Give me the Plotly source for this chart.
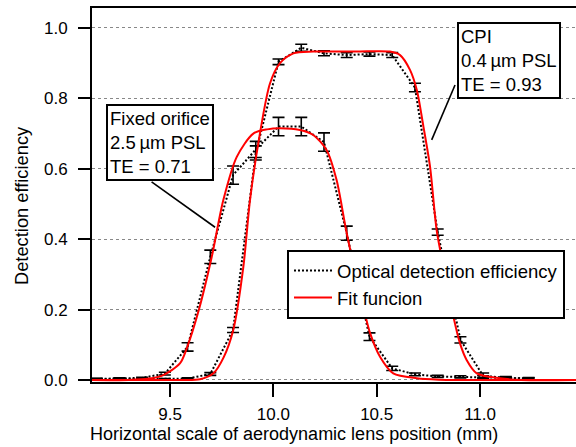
import plotly.graph_objects as go

# ---- measured data ----
x_pos = [9.145, 9.255, 9.365, 9.475, 9.585, 9.695, 9.805, 9.915, 10.025, 10.135,
         10.245, 10.355, 10.465, 10.575, 10.685, 10.795, 10.905, 11.015, 11.125, 11.235]

eff_fixed = [0.003, 0.004, 0.006, 0.018, 0.094, 0.350, 0.582, 0.655, 0.720, 0.720,
             0.676, 0.417, 0.123, 0.033, 0.016, 0.010, 0.009, 0.009, 0.006, 0.004]
err_fixed = [0.002, 0.002, 0.002, 0.004, 0.012, 0.019, 0.026, 0.023, 0.026, 0.026,
             0.026, 0.020, 0.011, 0.006, 0.004, 0.003, 0.003, 0.003, 0.002, 0.002]

eff_cpi = [0.002, 0.002, 0.002, 0.002, 0.004, 0.017, 0.142, 0.645, 0.904, 0.944,
           0.928, 0.923, 0.926, 0.923, 0.831, 0.420, 0.114, 0.012, 0.006, 0.004]
err_cpi = [0.002, 0.002, 0.002, 0.002, 0.002, 0.004, 0.007, 0.020, 0.008, 0.010,
           0.007, 0.007, 0.006, 0.007, 0.012, 0.009, 0.009, 0.008, 0.004, 0.003]

# fit curves
fit_fixed_x = [9.12, 9.30, 9.40, 9.468, 9.548, 9.581, 9.64, 9.702, 9.758, 9.823, 9.903,
               9.97, 10.032, 10.129, 10.193, 10.258, 10.306, 10.355, 10.435, 10.468,
               10.516, 10.58, 10.694, 10.80, 11.0, 11.47]
fit_fixed_y = [0.0, 0.0, 0.004, 0.014, 0.047, 0.09, 0.20, 0.35, 0.511, 0.634, 0.70,
               0.712, 0.715, 0.710, 0.696, 0.653, 0.568, 0.417, 0.208, 0.133,
               0.066, 0.019, 0.005, 0.001, 0.0, 0.0]

fit_cpi_x = [9.12, 9.40, 9.55, 9.645, 9.71, 9.76, 9.806, 9.855, 9.887, 9.935, 9.984,
             10.032, 10.097, 10.193, 10.40, 10.564, 10.613, 10.661, 10.694, 10.726,
             10.758, 10.79, 10.823, 10.871, 10.903, 10.935, 10.984, 11.097, 11.20, 11.47]
fit_cpi_y = [0.0, 0.0, 0.0, 0.002, 0.019, 0.065, 0.142, 0.322, 0.511, 0.70, 0.843,
             0.90, 0.928, 0.933, 0.933, 0.933, 0.923, 0.881, 0.824, 0.72,
             0.606, 0.426, 0.322, 0.18, 0.104, 0.057, 0.019, 0.005, 0.0, 0.0]

x_ticks = [9.5, 10.0, 10.5, 11.0]
x_tick_labels = ["9.5", "10.0", "10.5", "11.0"]
y_ticks = [0.0, 0.2, 0.4, 0.6, 0.8, 1.0]
y_tick_labels = ["0.0", "0.2", "0.4", "0.6", "0.8", "1.0"]

FONT = "Liberation Sans, Arial, Helvetica, sans-serif"
W, H = 576, 447
ML, MR, MT, MB = 92, 0, 8, 65
PW, PH = W - ML - MR, H - MT - MB


def px(xp):
    return (xp - ML) / PW


def py(yp):
    return (H - MB - yp) / PH


fig = go.Figure()

dot = "2px,2px"
for ys, es, show in [(eff_fixed, err_fixed, True), (eff_cpi, err_cpi, False)]:
    fig.add_trace(go.Scatter(
        x=x_pos, y=ys, mode="lines", name="Optical detection efficiency",
        showlegend=show,
        line=dict(color="black", width=2, dash=dot),
        error_y=dict(type="data", array=es, visible=True, color="black",
                     thickness=1.6, width=6),
    ))

for fx, fy, show in [(fit_fixed_x, fit_fixed_y, True), (fit_cpi_x, fit_cpi_y, False)]:
    fig.add_trace(go.Scatter(
        x=fx, y=fy, mode="lines", name="Fit funcion", showlegend=show,
        line=dict(color="#ff0000", width=2, shape="spline", smoothing=0.8),
    ))

# annotation boxes
box_style = dict(xref="paper", yref="paper", xanchor="left", yanchor="top",
                 align="left", showarrow=False, bgcolor="white",
                 bordercolor="black", borderwidth=2, borderpad=2,
                 font=dict(family=FONT, size=18.5, color="black"))
fig.add_annotation(x=px(106), y=py(104),
                   text="Fixed orifice<br>2.5\u2009µm PSL<br>TE = 0.71", **box_style)
fig.add_annotation(x=px(456.7), y=py(21.7),
                   text="CPI<br>0.4\u2009µm PSL<br>TE = 0.93", **box_style)

# leader lines
fig.add_shape(type="line", xref="x", yref="y", x0=9.411, y0=0.563, x1=9.718, y1=0.434,
              line=dict(color="black", width=1.6))
fig.add_shape(type="line", xref="x", yref="y", x0=10.879, y0=0.838, x1=10.766, y1=0.682,
              line=dict(color="black", width=1.6))

# axis titles
fig.add_annotation(x=px(294), y=py(446), xref="paper", yref="paper",
                   text="Horizontal scale of aerodynamic lens position (mm)",
                   showarrow=False, xanchor="center", yanchor="bottom",
                   font=dict(family=FONT, size=18, color="black"))
fig.add_annotation(x=px(21), y=py(206), xref="paper", yref="paper",
                   text="Detection efficiency", textangle=-90,
                   showarrow=False, xanchor="center", yanchor="middle",
                   font=dict(family=FONT, size=18.3, color="black"))

fig.update_layout(
    width=W, height=H,
    margin=dict(l=ML, r=MR, t=MT, b=MB, pad=0),
    paper_bgcolor="white", plot_bgcolor="white",
    font=dict(family=FONT, size=17, color="black"),
    showlegend=True,
    legend=dict(x=px(287), y=py(250), xanchor="left", yanchor="top",
                bgcolor="white", bordercolor="black", borderwidth=2,
                font=dict(family=FONT, size=18.5, color="black"),
                tracegroupgap=0, itemwidth=38),
    xaxis=dict(range=[9.1226, 11.4642], tickvals=x_ticks, ticktext=x_tick_labels,
               showgrid=False, zeroline=False, showline=True, linecolor="black",
               linewidth=2, mirror=True, ticks="outside", ticklen=13, tickwidth=2,
               tickcolor="black", ticklabelstandoff=3,
               tickfont=dict(family=FONT, size=17, color="black")),
    yaxis=dict(range=[-0.0057, 1.0568], tickvals=y_ticks, ticktext=y_tick_labels,
               showgrid=True, gridcolor="#888888", gridwidth=1, griddash="dot",
               zeroline=False, showline=True, linecolor="black", linewidth=2,
               mirror=False, ticks="outside", ticklen=12, tickwidth=2,
               tickcolor="black", ticklabelstandoff=7,
               tickfont=dict(family=FONT, size=17, color="black")),
)

fig.write_html("out.html", config={"displayModeBar": False},
               post_script="document.body.style.margin='0';document.body.style.overflow='hidden';")
